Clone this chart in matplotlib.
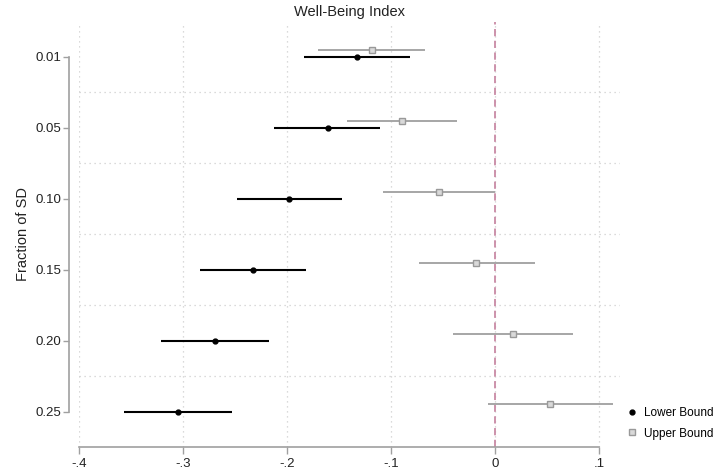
import numpy as np
import matplotlib.pyplot as plt

plt.rcParams['font.family'] = ['Liberation Sans', 'DejaVu Sans']

fractions = ['0.01', '0.05', '0.10', '0.15', '0.20', '0.25']

# lower bound estimates with CI
lower_est = [-0.133, -0.161, -0.198, -0.233, -0.269, -0.305]
lower_lo = [-0.184, -0.2125, -0.248, -0.284, -0.321, -0.357]
lower_hi = [-0.082, -0.111, -0.147, -0.182, -0.217, -0.2525]

# upper bound estimates with CI
upper_est = [-0.118, -0.090, -0.054, -0.018, 0.0175, 0.053]
upper_lo = [-0.170, -0.142, -0.108, -0.0735, -0.0405, -0.0065]
upper_hi = [-0.067, -0.037, 0.000, 0.038, 0.075, 0.1135]

xticks = [-0.4, -0.3, -0.2, -0.1, 0.0, 0.1]
xticklabels = ['-.4', '-.3', '-.2', '-.1', '0', '.1']

fig = plt.figure(figsize=(7.15, 4.72), dpi=100)
ax = fig.add_axes([79/715, 25/472, (620-79)/715, (447-21.5)/472])

pos = np.arange(1, len(fractions) + 1)
gray = '#a6a6a6'

ax.hlines(pos, lower_lo, lower_hi, color='black', lw=1.5, zorder=3)
ax.plot(lower_est, pos, 'o', color='black', ms=3.5, zorder=4, label='Lower Bound')

ax.hlines(pos - 0.1, upper_lo, upper_hi, color=gray, lw=1.4, zorder=3)
ax.plot(upper_est, pos - 0.1, 's', mfc='#d9d9d9', mec='#999999', mew=1, ms=4.5,
        zorder=4, label='Upper Bound')

ax.axvline(0, color='#c98aa5', lw=1.3, ls=(0, (4, 2.5)), zorder=2)

ax.set_xlim(-0.4, 0.12)
ax.set_ylim(6.5, 0.5)
ax.set_xticks(xticks)
ax.set_xticklabels(xticklabels)
ax.set_yticks(pos)
ax.set_yticklabels(fractions)
ax.set_yticks(np.arange(1.5, 6.0, 1.0), minor=True)

ax.grid(True, which='major', axis='x', color='#cfcfcf', ls=(0, (1, 3)), lw=0.9)
ax.grid(True, which='minor', axis='y', color='#cfcfcf', ls=(0, (1, 3)), lw=0.9)
ax.tick_params(which='minor', length=0)
ax.tick_params(which='major', color='#a0a0a0', length=5, width=1, labelsize=9.5,
               labelcolor='#222222', pad=3)
ax.tick_params(axis='y', which='major', length=4, pad=1.5)

for s in ['top', 'right']:
    ax.spines[s].set_visible(False)
ax.spines['left'].set_position(('outward', 7))
ax.spines['left'].set_bounds(1, 6)
ax.spines['bottom'].set_bounds(-0.4, 0.1)
for s in ['left', 'bottom']:
    ax.spines[s].set_color('#a0a0a0')
    ax.spines[s].set_linewidth(1.2)

ax.set_title('Well-Being Index', fontsize=10.5, color='#222222', pad=4)
ax.set_ylabel('Fraction of SD', fontsize=10.5, color='#222222')
ax.yaxis.set_label_coords(-0.091, 0.5)

ax.legend(loc='center left', bbox_to_anchor=(1.0, 0.056), frameon=False,
          fontsize=8.5, handlelength=0.6, handletextpad=0.7, labelspacing=0.75,
          borderaxespad=0.3)

fig.savefig('out.png', dpi=100)
